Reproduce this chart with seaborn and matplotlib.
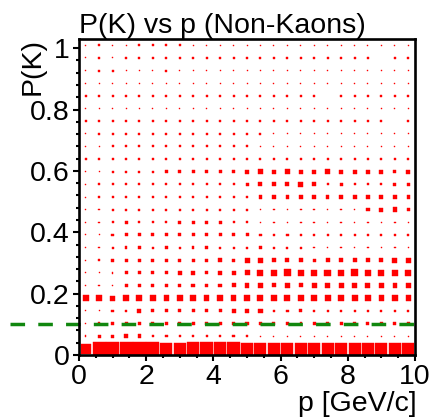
import numpy as np
import pandas as pd
import matplotlib
matplotlib.use("Agg")
import matplotlib.pyplot as plt
from matplotlib.ticker import MultipleLocator, FuncFormatter
import seaborn as sns

# ---------------- data (box side, relative units; 13 = full cell) ----------------
p_min, p_max, n_p_bins = 0.0, 10.0, 25
pk_min, pk_max, n_pk_bins = 0.0, 1.03, 25
cut_value = 0.1

row_00 = [10, 13, 13, 13, 13, 13, 12, 12, 12.5, 12.5, 12.5, 12.5, 12, 12, 12, 12, 12, 12, 12, 12, 12, 12, 12, 12, 12]
row_01 = [1.5, 3, 3, 4.5, 3.5, 2.5, 2.5, 2.5, 2.5, 2, 2, 2.5, 2, 1, 1, 1, 1, 1, 1, 1, 1, 1, 1, 1, 1]
row_02 = [1, 2, 3.5, 3, 3.5, 3, 3, 3, 3, 3, 3, 3, 3.5, 3, 3, 2.5, 2.5, 3, 2.5, 3, 3, 3, 3, 3, 3]
row_03 = [1, 1, 2.5, 2, 4, 3, 3, 3, 3, 3, 3, 4, 4.5, 4.5, 2, 2.5, 3, 2, 2, 2, 2, 2, 2, 2, 2]
row_04 = [6, 5.5, 5, 5.5, 6, 6.5, 5.5, 5.5, 5.5, 5.5, 6, 5.5, 5.5, 6, 6, 6, 6, 6, 6, 6, 6, 6, 5.5, 5.5, 5.5]
row_05 = [1, 1.5, 1.5, 3, 3, 3, 3, 3, 3.5, 3, 3.5, 4, 4.5, 4.5, 4, 4.5, 4, 5, 4.5, 5, 4.5, 5, 4.5, 4.5, 4.5]
row_06 = [1, 1, 1.5, 3, 3, 3, 3, 3.5, 4, 3, 3.5, 4, 5, 6, 6.5, 7, 6, 6, 6.5, 6, 7, 6.5, 6, 6, 6]
row_07 = [1, 1.5, 3, 3, 3, 3, 3, 3, 3, 3, 4, 3, 5, 5, 4, 4, 3.5, 3, 4, 4, 4, 4, 4, 5, 5]
row_08 = [1, 1.5, 2, 2.5, 2.5, 2, 2.5, 2, 2.5, 2.5, 2, 2, 2, 2.5, 2, 2, 2, 1.5, 1.5, 1.5, 1.5, 1.5, 1.5, 1.5, 1.5]
row_09 = [1, 1, 2.5, 3, 3, 3, 3, 3, 3, 3, 3, 3, 3, 2.5, 2, 2.5, 2, 2, 2, 2, 2, 2, 2, 2, 2]
row_10 = [1.5, 1.5, 2, 3, 2, 2, 2, 3, 3, 3, 3, 2, 2, 1.5, 1.5, 1.5, 1.5, 1.5, 1.5, 1.5, 1.5, 1.5, 1.5, 1.5, 1.5]
row_11 = [1, 1.5, 2, 2, 2, 2, 2, 2, 2, 2, 2, 2, 2, 1.5, 1.5, 1.5, 1.5, 1.5, 1.5, 1.5, 1.5, 3.5, 4, 4.5, 3.5]
row_12 = [1, 1.5, 2, 2, 2, 2, 2, 2, 2, 2, 2, 2, 2, 3.5, 3.5, 3.5, 3.5, 3.5, 3.5, 4, 4, 4.5, 4, 3.5, 3.5]
row_13 = [1, 2, 2, 2, 2, 2, 2, 2, 2, 2, 2, 2, 3, 4, 4, 4, 5, 4, 2, 3, 2, 2, 2, 3, 3]
row_14 = [1, 1, 2, 2, 2, 2, 3, 3, 3, 3, 3, 3, 4, 5, 4, 5, 4, 4, 5, 4, 4, 4, 4, 3, 4]
row_15 = [2, 2, 2, 2, 2, 2, 2, 2, 2, 2, 2, 2, 2, 2, 2, 2, 2, 2, 2, 2, 2, 2, 2, 2, 2]
row_16 = [1, 1, 2, 2, 2, 2, 2, 2, 2, 2, 2, 2, 2, 1, 1, 1, 1, 1, 1, 1, 1, 1, 1, 1, 1]
row_17 = [1, 2, 2, 2, 2, 2, 2, 2, 2, 2, 2, 2, 2, 2, 1, 1, 1, 1, 1, 1, 1, 1, 1, 1, 1]
row_18 = [2, 2, 2, 2, 2, 2, 2, 2, 2, 2, 2, 2, 2, 2, 2, 2, 2, 2, 2, 2, 2, 2, 2, 0, 2]
row_19 = [1, 1, 1, 1, 1, 1, 1, 1, 1, 1, 1, 1, 1, 1, 1, 1, 1, 1, 1, 1, 1, 1, 1, 1, 1]
row_20 = [2, 2, 2, 2, 2, 2, 2, 2, 2, 2, 2, 2, 2, 2, 2, 2, 2, 2, 0, 2, 2, 2, 2, 2, 2]
row_21 = [1, 1, 1, 1, 1, 1, 1, 1, 1, 1, 1, 1, 1, 1, 1, 1, 1, 1, 1, 1, 1, 1, 1, 1, 1]
row_22 = [1, 2, 2, 1, 1, 1, 2, 1, 1, 1, 1, 1, 1, 1, 1, 1, 1, 1, 1, 1, 1, 1, 1, 1, 1]
row_23 = [1, 2, 1, 2, 2, 2, 2, 2, 2, 2, 2, 2, 2, 2, 2, 2, 2, 2, 2, 2, 2, 2, 0, 2, 2]
row_24 = [1, 2, 1, 1, 2, 2, 2, 2, 1, 1, 1, 1, 1, 1, 1, 1, 1, 1, 1, 1, 1, 1, 1, 1, 1]

x_ticks = [0, 2, 4, 6, 8, 10]
y_ticks = [0, 0.2, 0.4, 0.6, 0.8, 1.0]
title = "P(K) vs p (Non-Kaons)"
x_label = "p [GeV/c]"
y_label = "P(K)"

# ---------------- build table ----------------
rows = [row_00, row_01, row_02, row_03, row_04, row_05, row_06, row_07, row_08,
        row_09, row_10, row_11, row_12, row_13, row_14, row_15, row_16, row_17,
        row_18, row_19, row_20, row_21, row_22, row_23, row_24]
content = np.array(rows, dtype=float)
p_edges = np.linspace(p_min, p_max, n_p_bins + 1)
pk_edges = np.linspace(pk_min, pk_max, n_pk_bins + 1)
p_centers = 0.5 * (p_edges[:-1] + p_edges[1:])
pk_centers = 0.5 * (pk_edges[:-1] + pk_edges[1:])
PP, KK = np.meshgrid(p_centers, pk_centers)
df = pd.DataFrame({"p": PP.ravel(), "pk": KK.ravel(), "c": content.ravel()})
df = df[df["c"] > 0]
df["area"] = df["c"] ** 2
cmax = 13.0

# ---------------- style ----------------
sns.set_theme(style="white")
plt.rcParams["font.family"] = ["Liberation Sans", "DejaVu Sans"]
plt.rcParams["lines.scale_dashes"] = False

W, H, DPI = 429, 420, 100
fig = plt.figure(figsize=(W / DPI, H / DPI), dpi=DPI)
ax = fig.add_axes([79 / W, 1 - 355 / H, 336 / W, 316 / H])

px_to_pt = 72.0 / DPI
sns.scatterplot(data=df, x="p", y="pk", size="area",
                sizes=(0, (cmax * px_to_pt) ** 2), size_norm=(0, cmax ** 2),
                marker="s", color="#ff0000", edgecolor="#ff0000", linewidth=0.3,
                legend=False, ax=ax, zorder=2)

ax.plot([-2.05, p_max + 0.06], [cut_value, cut_value], color="#11870f",
        lw=2.5, linestyle=(0, (10.5, 9.5)), clip_on=False, zorder=5)

ax.set_xlim(p_min, p_max)
ax.set_ylim(pk_min, pk_max)
ax.set_xticks(x_ticks)
ax.set_yticks(y_ticks)
fmt = FuncFormatter(lambda v, pos: f"{v:g}")
ax.xaxis.set_major_formatter(fmt)
ax.yaxis.set_major_formatter(fmt)
ax.xaxis.set_minor_locator(MultipleLocator(0.5))
ax.yaxis.set_minor_locator(MultipleLocator(0.04))

fs = 20.5
ax.tick_params(axis="both", which="major", direction="out", length=4.3, width=1.5,
               labelsize=fs, color="black", labelcolor="black", pad=2.5,
               bottom=True, left=True)
ax.tick_params(axis="both", which="minor", direction="out", length=2.2, width=1.5,
               color="black", bottom=True, left=True)
for s in ax.spines.values():
    s.set_visible(True)
    s.set_color("black")
    s.set_linewidth(1.9)
    s.set_zorder(6)

ax.set_title(title, loc="left", fontsize=fs, pad=4.5, color="black")
ax.set_xlabel(x_label, loc="right", fontsize=fs, color="black")
ax.set_ylabel(y_label, loc="top", fontsize=fs, color="black")
ax.xaxis.set_label_coords(1.005, -0.113)
ax.yaxis.set_label_coords(-0.10, 1.003)

fig.savefig("out.png", dpi=DPI)
